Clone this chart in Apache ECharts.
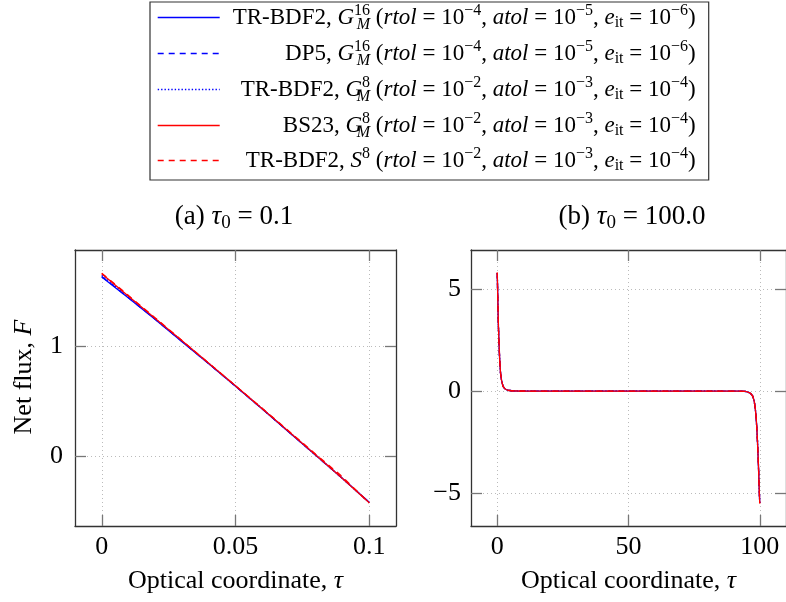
<!DOCTYPE html>
<html><head><meta charset="utf-8">
<script src="https://cdn.jsdelivr.net/npm/echarts@6/dist/echarts.min.js"></script>
<style>html,body{margin:0;padding:0;background:#fff}#c{width:786px;height:602px}</style>
</head><body><div id="c"></div>
<script>
// ---------- data ----------
const seriesNames = ['TR-BDF2 G16M', 'DP5 G16M', 'TR-BDF2 G8M', 'BS23 G8M', 'TR-BDF2 S8'];
const legendLabels = [
  '{t|TR-BDF2, }{i|G}{sup|16}{subz|M}{t| (}{i|rtol}{t| = 10}{sup|−4}{t|, }{i|atol}{t| = 10}{sup|−5}{t|, }{i|e}{sub|it}{t| = 10}{sup|−6}{t|)}',
  '{t|DP5, }{i|G}{sup|16}{subz|M}{t| (}{i|rtol}{t| = 10}{sup|−4}{t|, }{i|atol}{t| = 10}{sup|−5}{t|, }{i|e}{sub|it}{t| = 10}{sup|−6}{t|)}',
  '{t|TR-BDF2, }{i|G}{sup|8}{subz|M}{t| (}{i|rtol}{t| = 10}{sup|−2}{t|, }{i|atol}{t| = 10}{sup|−3}{t|, }{i|e}{sub|it}{t| = 10}{sup|−4}{t|)}',
  '{t|BS23, }{i|G}{sup|8}{subz|M}{t| (}{i|rtol}{t| = 10}{sup|−2}{t|, }{i|atol}{t| = 10}{sup|−3}{t|, }{i|e}{sub|it}{t| = 10}{sup|−4}{t|)}',
  '{t|TR-BDF2, }{i|S}{sup|8}{t| (}{i|rtol}{t| = 10}{sup|−2}{t|, }{i|atol}{t| = 10}{sup|−3}{t|, }{i|e}{sub|it}{t| = 10}{sup|−4}{t|)}'
];
const titleA = '(a) {i|τ}{sub|0} = 0.1';
const titleB = '(b) {i|τ}{sub|0} = 100.0';

// panel (a): tau0 = 0.1
const tauA = [0, 0.01, 0.02, 0.03, 0.04, 0.05, 0.06, 0.07, 0.08, 0.09, 0.1];
const fluxA_trbdf2_G16 = [1.625, 1.435, 1.240, 1.040, 0.840, 0.635, 0.430, 0.220, 0.010, -0.200, -0.415];
const fluxA_dp5_G16    = [1.630, 1.438, 1.242, 1.041, 0.840, 0.636, 0.430, 0.221, 0.010, -0.200, -0.416];
const fluxA_trbdf2_G8  = [1.640, 1.445, 1.245, 1.045, 0.843, 0.638, 0.432, 0.222, 0.012, -0.200, -0.418];
const fluxA_bs23_G8    = [1.655, 1.452, 1.250, 1.048, 0.845, 0.640, 0.433, 0.224, 0.013, -0.200, -0.420];
const fluxA_trbdf2_S8  = [1.660, 1.458, 1.255, 1.050, 0.845, 0.640, 0.436, 0.228, 0.020, -0.185, -0.422];

// panel (b): tau0 = 100
const tauB = [0, 0.15, 0.3, 0.45, 0.65, 0.9, 1.25, 1.6, 2.2, 3, 4, 5.5, 8, 15, 25, 35, 45, 55, 65, 75, 85, 92, 94.5, 95.5, 96.5, 97.3, 97.9, 98.3, 98.6, 98.9, 99.15, 99.4, 99.6, 99.8, 100];
const fluxB_trbdf2_G16 = [5.77, 4.88, 3.93, 3.14, 2.41, 1.61, 0.88, 0.55, 0.23, 0.10, 0.04, 0.015, 0.004, 0, 0, 0, 0, 0, 0, 0, 0, -0.005, -0.02, -0.05, -0.11, -0.24, -0.50, -0.85, -1.25, -1.85, -2.50, -3.30, -4.00, -4.80, -5.47];
const fluxB_dp5_G16    = [5.77, 4.88, 3.94, 3.14, 2.41, 1.61, 0.88, 0.55, 0.23, 0.10, 0.04, 0.015, 0.004, 0, 0, 0, 0, 0, 0, 0, 0, -0.005, -0.02, -0.05, -0.11, -0.24, -0.50, -0.85, -1.25, -1.85, -2.50, -3.30, -4.00, -4.80, -5.47];
const fluxB_trbdf2_G8  = [5.78, 4.90, 3.95, 3.15, 2.42, 1.62, 0.88, 0.55, 0.23, 0.10, 0.04, 0.015, 0.004, 0, 0, 0, 0, 0, 0, 0, 0, -0.005, -0.02, -0.05, -0.11, -0.24, -0.50, -0.85, -1.25, -1.85, -2.50, -3.30, -4.00, -4.80, -5.49];
const fluxB_bs23_G8    = [5.79, 4.90, 3.95, 3.15, 2.42, 1.62, 0.88, 0.55, 0.23, 0.10, 0.04, 0.015, 0.004, 0, 0, 0, 0, 0, 0, 0, 0, -0.005, -0.02, -0.05, -0.11, -0.24, -0.50, -0.85, -1.25, -1.85, -2.50, -3.30, -4.00, -4.80, -5.49];
const fluxB_trbdf2_S8  = [5.80, 4.91, 3.96, 3.16, 2.43, 1.62, 0.89, 0.56, 0.23, 0.10, 0.04, 0.015, 0.004, 0, 0, 0, 0, 0, 0, 0, 0, -0.005, -0.02, -0.05, -0.11, -0.24, -0.50, -0.86, -1.26, -1.86, -2.52, -3.32, -4.02, -4.82, -5.50];

const xTicksA = [0, 0.05, 0.1];
const yTicksA = [0, 1];
const xTicksB = [0, 50, 100];
const yTicksB = [-5, 0, 5];

// ---------- styles ----------
const FONT = 'Liberation Serif';
const lineStyles = [
  {color: '#0000ff', width: 1.3, type: 'solid'},
  {color: '#0000ff', width: 1.3, type: [6, 5]},
  {color: '#0000ff', width: 1.4, type: [1.4, 2]},
  {color: '#ff0000', width: 1.3, type: 'solid'},
  {color: '#ff0000', width: 1.3, type: [6, 5]}
];
const fluxA = [fluxA_trbdf2_G16, fluxA_dp5_G16, fluxA_trbdf2_G8, fluxA_bs23_G8, fluxA_trbdf2_S8];
const fluxB = [fluxB_trbdf2_G16, fluxB_dp5_G16, fluxB_trbdf2_G8, fluxB_bs23_G8, fluxB_trbdf2_S8];

const fmt = v => String(v).replace('-', '−');
const tickStyle = {color: '#777', width: 1.3};
const axisLineStyle = {color: '#333', width: 1.3};
const gridLine = {show: true, lineStyle: {color: '#bbb', width: 1, type: [1, 3]}};
const labelBase = {fontFamily: FONT, fontSize: 26, color: '#000', formatter: fmt};
const nameStyle = {fontFamily: FONT, fontSize: 26, color: '#000', rich: {i: {fontFamily: FONT, fontSize: 26, fontStyle: 'italic', color: '#000'}}};

function mainX(grid, min, max, split, ticks) {
  return {gridIndex: grid, type: 'value', position: 'bottom', min, max, splitNumber: split,
    axisLine: {show: true, onZero: false, lineStyle: axisLineStyle},
    axisTick: {show: true, inside: true, length: 11, customValues: ticks, lineStyle: tickStyle},
    axisLabel: Object.assign({customValues: ticks, margin: 8}, labelBase),
    splitLine: gridLine,
    name: 'Optical coordinate, {i|τ}', nameLocation: 'middle', nameGap: 42, nameTextStyle: nameStyle};
}
function topX(grid, min, max, ticks) {
  return {gridIndex: grid, type: 'value', position: 'top', min, max,
    axisLine: {show: true, onZero: false, lineStyle: axisLineStyle},
    axisTick: {show: true, inside: true, length: 11, customValues: ticks, lineStyle: tickStyle},
    axisLabel: {show: false}, splitLine: {show: false}};
}
function mainY(grid, min, max, split, ticks, margin, name) {
  const o = {gridIndex: grid, type: 'value', position: 'left', min, max, splitNumber: split,
    axisLine: {show: true, onZero: false, lineStyle: axisLineStyle},
    axisTick: {show: true, inside: true, length: 11, customValues: ticks, lineStyle: tickStyle},
    axisLabel: Object.assign({customValues: ticks, margin}, labelBase),
    splitLine: gridLine};
  if (name) {
    Object.assign(o, {name, nameLocation: 'middle', nameGap: 38, nameRotate: 90,
      nameTextStyle: Object.assign({padding: [0, 0, 0, 22]}, nameStyle)});
  }
  return o;
}
function rightY(grid, min, max, ticks) {
  return {gridIndex: grid, type: 'value', position: 'right', min, max,
    axisLine: {show: true, onZero: false, lineStyle: axisLineStyle},
    axisTick: {show: true, inside: true, length: 11, customValues: ticks, lineStyle: tickStyle},
    axisLabel: {show: false}, splitLine: {show: false}};
}

const series = [];
fluxA.forEach((arr, k) => series.push({
  name: seriesNames[k], type: 'line', xAxisIndex: 0, yAxisIndex: 0,
  data: tauA.map((t, i) => [t, arr[i]]), showSymbol: false, symbol: 'circle',
  lineStyle: lineStyles[k], itemStyle: {color: lineStyles[k].color}, animation: false, z: 3 + k
}));
fluxB.forEach((arr, k) => series.push({
  name: seriesNames[k], type: 'line', xAxisIndex: 1, yAxisIndex: 1,
  data: tauB.map((t, i) => [t, arr[i]]), showSymbol: false, symbol: 'circle',
  lineStyle: lineStyles[k], itemStyle: {color: lineStyles[k].color}, animation: false, z: 3 + k
}));

const sz = 23, ssz = 16, LH = 22;
const rich = {
  t: {fontFamily: FONT, fontSize: sz, lineHeight: LH, align: 'right', color: '#000'},
  i: {fontFamily: FONT, fontSize: sz, lineHeight: LH, fontStyle: 'italic', align: 'right', color: '#000'},
  sup: {fontFamily: FONT, fontSize: ssz, lineHeight: LH, padding: [0, 0, 13, 0], align: 'right', color: '#000'},
  sub: {fontFamily: FONT, fontSize: ssz, lineHeight: LH, padding: [11, 0, 0, 0], align: 'right', color: '#000'},
  subz: {fontFamily: FONT, fontSize: ssz, lineHeight: LH, padding: [15, 0, 0, 0], align: 'right', width: 0, fontStyle: 'italic', color: '#000'}
};
const titleRich = {
  i: {fontFamily: FONT, fontSize: 27, fontStyle: 'italic', lineHeight: 30, color: '#000'},
  sub: {fontFamily: FONT, fontSize: 19, lineHeight: 30, padding: [13, 0, 0, 0], color: '#000'}
};

const option = {
  animation: false,
  backgroundColor: '#fff',
  title: [
    {text: titleA, left: 234, top: 202, textAlign: 'center', padding: 0,
     textStyle: {fontFamily: FONT, fontSize: 27, fontWeight: 'normal', color: '#000', lineHeight: 30, rich: titleRich}},
    {text: titleB, left: 632, top: 202, textAlign: 'center', padding: 0,
     textStyle: {fontFamily: FONT, fontSize: 27, fontWeight: 'normal', color: '#000', lineHeight: 30, rich: titleRich}}
  ],
  legend: {
    orient: 'vertical', left: 150, top: 2,
    padding: [0, 13, 5, 7], borderColor: '#333', borderWidth: 1.2,
    itemWidth: 62, itemHeight: 14, itemGap: 5, selectedMode: false,
    data: seriesNames.map((n, k) => ({name: n, itemStyle: {opacity: 0}, lineStyle: lineStyles[k]})),
    formatter: name => legendLabels[seriesNames.indexOf(name)],
    textStyle: {width: 471, fontFamily: FONT, fontSize: sz, lineHeight: LH, color: '#000', rich}
  },
  grid: [
    {left: 75, top: 250, width: 321, height: 276, show: false},
    {left: 471, top: 250, width: 321, height: 276, show: false}
  ],
  xAxis: [
    mainX(0, -0.01, 0.11, 2, xTicksA),
    mainX(1, -10, 110, 2, xTicksB),
    topX(0, -0.01, 0.11, xTicksA),
    topX(1, -10, 110, xTicksB)
  ],
  yAxis: [
    mainY(0, -0.63, 1.87, 2, yTicksA, 12, 'Net flux, {i|F}'),
    mainY(1, -6.6, 6.9, 3, yTicksB, 10, null),
    rightY(0, -0.63, 1.87, yTicksA),
    rightY(1, -6.6, 6.9, yTicksB)
  ],
  series
};
const chart = echarts.init(document.getElementById('c'), null, {renderer: 'canvas'});
chart.setOption(option);
</script></body></html>
